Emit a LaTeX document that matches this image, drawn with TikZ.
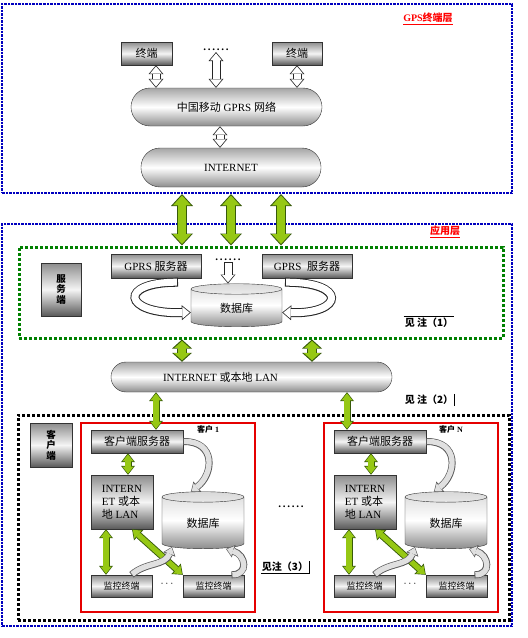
\documentclass[tikz,border=0pt]{standalone}
\usepackage{fontspec}
\setmainfont{Liberation Serif}
\newfontfamily\cjk{Noto Sans CJK SC}
\usetikzlibrary{arrows.meta,shapes.geometric}
\newcommand\zh[1]{{\cjk #1}}
\newcommand\sixdots{\textbf{.\kern1.8pt.\kern1.8pt.\kern1.8pt.\kern1.8pt.\kern1.8pt.}}
\definecolor{leaf}{RGB}{150,200,20}
\definecolor{leafdark}{RGB}{55,90,10}

\begin{document}
\begin{tikzpicture}[x=1pt,y=-1pt,font=\fontsize{11}{13}\selectfont,
    ht/.tip={Triangle[width=15pt,length=9pt,line width=0pt]},
    hi/.tip={Triangle[width=12pt,length=7.2pt,line width=0pt]},
    gt/.tip={Triangle[width=22pt,length=12pt,line width=0pt]},
    gi/.tip={Triangle[width=18pt,length=9.8pt,line width=0pt]},
    mt/.tip={Triangle[width=20pt,length=9pt,line width=0pt]},
    mi/.tip={Triangle[width=16pt,length=7.2pt,line width=0pt]},
    st/.tip={Triangle[width=14pt,length=9pt,line width=0pt]},
    si/.tip={Triangle[width=11pt,length=7pt,line width=0pt]},
    wt/.tip={Triangle[width=13pt,length=8pt,line width=0pt]},
    wi/.tip={Triangle[width=10pt,length=6.2pt,line width=0pt]}]
  \tikzstyle{every node}=[inner sep=1pt]
  \tikzstyle{box}=[draw=black!80,top color=black!45,bottom color=black!65,middle color=black!4]
  \tikzstyle{pill}=[draw=black!80,top color=black!35,bottom color=black!45,middle color=white,rounded corners=15pt]
  \tikzstyle{db}=[cylinder,shape border rotate=90,aspect=0.3,draw=black!80,top color=black!15,bottom color=black!45,middle color=white]
  \tikzstyle{layer}=[draw=blue!75!black,line width=2pt,dash pattern=on 2.5pt off 1pt]
  \tikzstyle{zone}=[line width=3pt,dash pattern=on 3pt off 2pt]
  \tikzstyle{note}=[font=\fontsize{10}{12}\selectfont\bfseries]
  \tikzstyle{hollow}=[line width=9pt,draw=black!85,arrows={ht-ht},
    postaction={draw=white,line width=7pt,arrows={hi-hi},shorten <=1.2pt,shorten >=1.2pt}]
  \tikzstyle{hollow1}=[line width=9pt,draw=black!85,arrows={-ht},
    postaction={draw=white,line width=7pt,arrows={-hi},shorten <=1.2pt,shorten >=1.2pt}]
  \tikzstyle{bigg}=[line width=10pt,draw=leafdark,arrows={gt-gt},
    postaction={draw=leaf,line width=7.6pt,arrows={gi-gi},shorten <=1.5pt,shorten >=1.5pt}]
  \tikzstyle{midg}=[line width=10pt,draw=leafdark,arrows={mt-mt},
    postaction={draw=leaf,line width=7.6pt,arrows={mi-mi},shorten <=1.5pt,shorten >=1.5pt}]
  \tikzstyle{smallg}=[line width=7pt,draw=leafdark,arrows={st-st},
    postaction={draw=leaf,line width=5.2pt,arrows={si-si},shorten <=1.1pt,shorten >=1.1pt}]
  \tikzstyle{swoosh}=[line width=7pt,draw=black!65,arrows={-wt},
    postaction={draw=black!12,line width=5.4pt,arrows={-wi},shorten <=0.9pt,shorten >=0.9pt}]
  \useasboundingbox (0,0) rectangle (528,638);

  % GPS terminal layer
  \node[layer,minimum width=510pt,minimum height=189pt] (gpsbox) at (257,98.5) {};
  \node[note,text=red] (gpstitle) at (428,19) {\underline{GPS\zh{终端层}}};
  \node[box,minimum width=51pt,minimum height=23pt] (term1) at (146.5,53.5) {\zh{终端}};
  \node[box,minimum width=50pt,minimum height=23pt] (term2) at (297,53.5) {\zh{终端}};
  \node (dots1) at (216,50) {\sixdots};
  \node[pill,rounded corners=19pt,minimum width=191pt,minimum height=38pt] (gprs) at (226.5,107) {\zh{中国移动} GPRS \zh{网络}};
  \node[pill,rounded corners=19pt,minimum width=180pt,minimum height=39pt] (inet) at (231,167.5) {INTERNET};
  \draw[hollow] (156,0 |- term1.south) -- (156,0 |- gprs.north);
  \draw[hollow] (dots1.south) -- (dots1.south |- gprs.north);
  \draw[hollow] (term2.south) -- (term2.south |- gprs.north);
  \draw[hollow] (220,0 |- gprs.south) -- (220,0 |- inet.north);

  % application layer
  \node[layer,minimum width=510pt,minimum height=402pt] (appbox) at (257,425) {};
  \node[note,text=red] (apptitle) at (445,232) {\underline{\zh{应用层}}};
  \node[zone,draw=green!50!black,minimum width=484pt,minimum height=91pt] (srvzone) at (261,292.5) {};
  \foreach \x in {182,231,281}
    \draw[bigg] (\x,0 |- gpsbox.south) -- (\x,0 |- srvzone.north);
  \node[box,minimum width=40pt,minimum height=53pt,align=center,font=\fontsize{9.5}{10.5}\selectfont\bfseries] (srvtag) at (61,289.5) {\zh{服}\\\zh{务}\\\zh{端}};
  \node[box,minimum width=90pt,minimum height=24pt] (gsrv1) at (156,266) {GPRS \zh{服务器}};
  \node[box,minimum width=90pt,minimum height=24pt] (gsrv2) at (307,266) {GPRS\ \ \zh{服务器}};
  \node (dots2) at (228,260) {\sixdots};
  \node[db,minimum width=91pt,minimum height=43pt] (srvdb) at (236.5,308.5) {\zh{数据库}};
  \draw[hollow1] (dots2.south) -- (dots2.south |- srvdb.north);
  \draw[hollow1] ([xshift=22pt,yshift=-4pt]gsrv1.south) .. controls (118,282) and (122,314) .. ([yshift=-4pt]srvdb.west);
  \draw[hollow1] ([xshift=-22pt,yshift=-4pt]gsrv2.south) .. controls (348,282) and (344,314) .. ([yshift=-4pt]srvdb.east);
  \node[note] (note1) at (429,323) {\zh{见\ 注（1）}};
  \draw ([yshift=1pt]note1.north west) -- ([yshift=1pt]note1.north east);

  % LAN
  \node[pill,minimum width=281pt,minimum height=30pt] (lan) at (251.5,377) {INTERNET \zh{或本地} LAN\hspace*{62pt}};
  \foreach \x in {182,312}
    \draw[midg] (\x,0 |- srvzone.south) -- (\x,0 |- lan.north);
  \node[note] (note2) at (429,400) {\zh{见\ 注（2）}};
  \draw (note2.north east) -- (note2.south east);

  % clients
  \node[zone,draw=black,minimum width=491pt,minimum height=205pt] (cltzone) at (263.5,517.5) {};
  \node[box,minimum width=42pt,minimum height=44pt,align=center,font=\fontsize{9.5}{10.5}\selectfont\bfseries] (clttag) at (51,445) {\zh{客}\\\zh{户}\\\zh{端}};
  \foreach \dx/\n/\id in {0/1/a,243/N/b} {
    \begin{scope}[xshift=\dx pt]
      \node[draw=red!90!black,line width=1.2pt,minimum width=174pt,minimum height=189pt] (client\id) at (168,517.5) {};
      \node[font=\fontsize{8}{9}\selectfont\bfseries] (cname\id) at (208,429) {\zh{客户} \n};
      \node[box,minimum width=92pt,minimum height=23pt] (csrv\id) at (137,441.5) {\zh{客户端服务器}};
      \node[box,minimum width=62pt,minimum height=54pt,align=left] (clan\id) at (122,502) {INTERN\\ET \zh{或本}\\\zh{地} LAN};
      \node[db,minimum width=82pt,minimum height=57pt] (cdb\id) at (203,523.5) {\zh{数据库}};
      \node[box,minimum width=61pt,minimum height=22pt,font=\fontsize{9}{10}\selectfont] (mon\id1) at (121.5,586) {\zh{监控终端}};
      \node[box,minimum width=61pt,minimum height=22pt,font=\fontsize{9}{10}\selectfont] (mon\id2) at (213.5,586) {\zh{监控终端}};
      \node (mdots\id) at (167,584) {$\cdots$};
      \draw[smallg] (128,0 |- clan\id.north) -- (128,0 |- csrv\id.south);
      \draw[smallg] (106,0 |- clan\id.south) -- (106,0 |- mon\id1.north);
      \draw[smallg] (132,0 |- clan\id.south) -- (mon\id2.north west);
      \draw[swoosh] (csrv\id.east) .. controls (216,441) and (214,474) .. ([xshift=-12pt]cdb\id.north);
      \draw[swoosh] ([xshift=10pt]mon\id1.north) .. controls (146,562) and (165,566) .. ([xshift=-31pt,yshift=2pt]cdb\id.south);
      \draw[swoosh] ([xshift=18pt]mon\id2.north) .. controls (249,575) and (246,555) .. ([xshift=23pt]cdb\id.south);
    \end{scope}
  }
  \draw[smallg] (156,0 |- lan.south) -- (156,0 |- csrva.north);
  \draw[smallg] (347,0 |- lan.south) -- (347,0 |- csrvb.north);
  \node (cdots) at (291,507) {\sixdots};
  \node[note] (note3) at (285,567) {\zh{见注（3）}};
  \draw (note3.south west) -- (note3.south east) -- (note3.north east);
\end{tikzpicture}
\end{document}
